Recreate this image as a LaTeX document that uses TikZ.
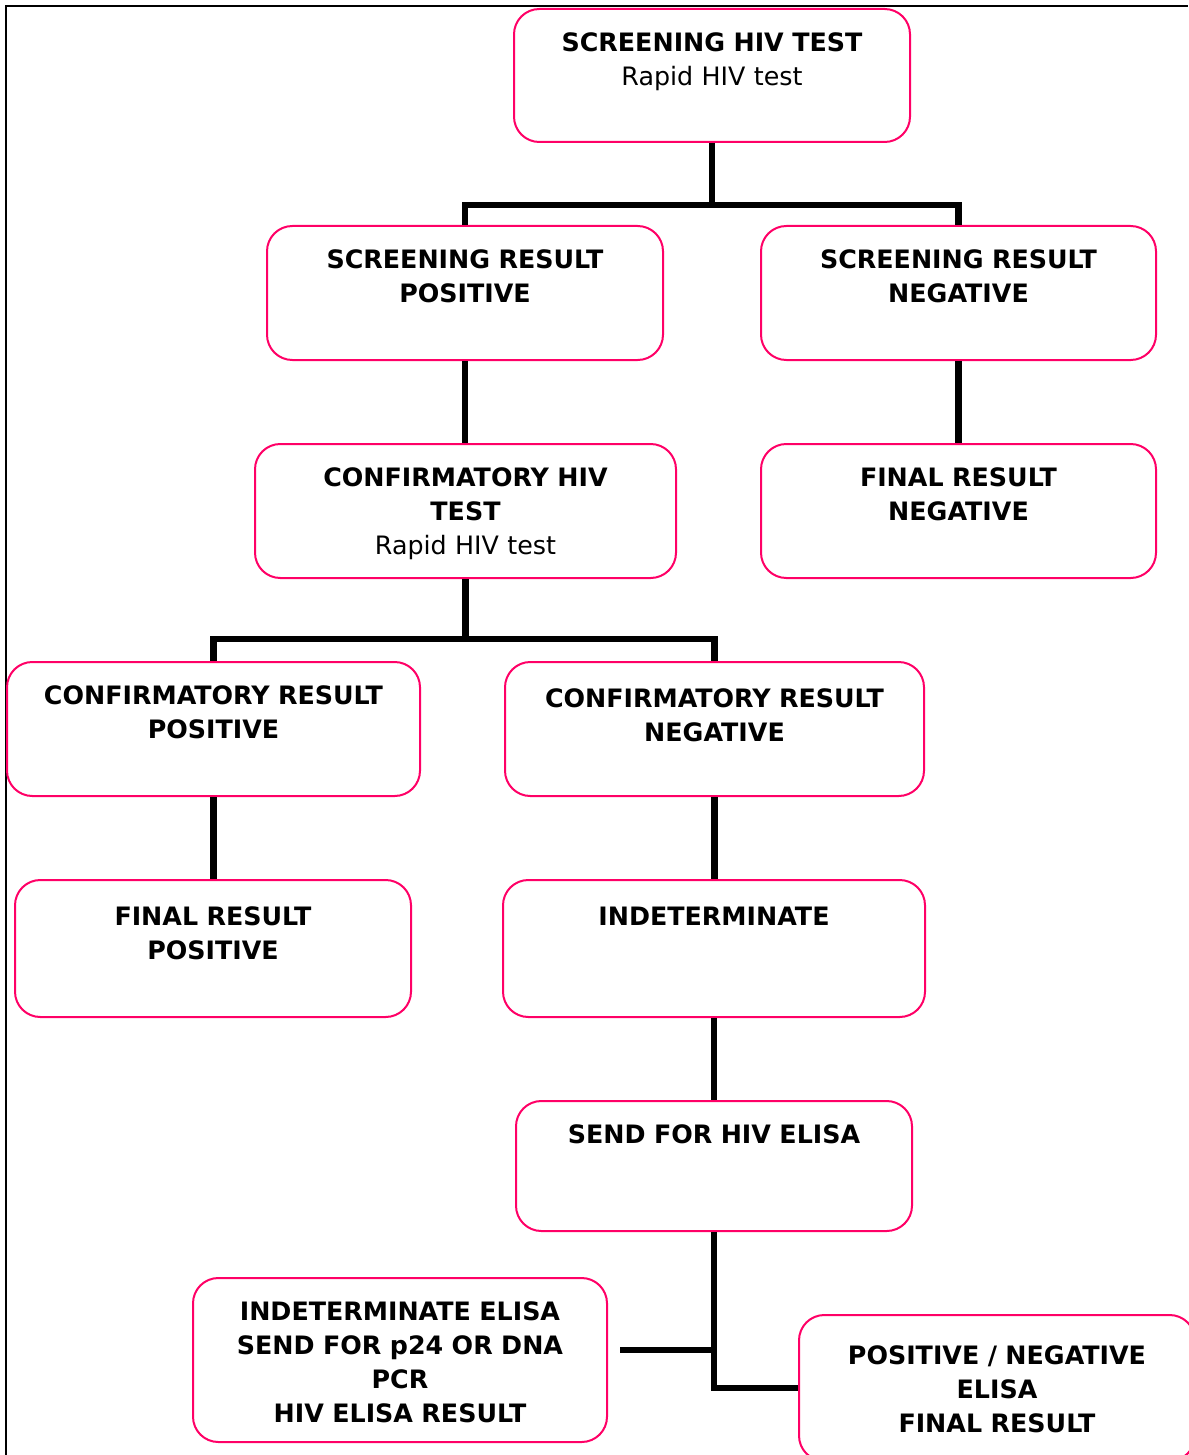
\documentclass[tikz,border=0pt]{standalone}
\usepackage{fontspec}
\setmainfont{DejaVu Sans}
\usepackage{tikz}
\usetikzlibrary{positioning}

\definecolor{boxpink}{RGB}{255,0,102}

\tikzset{
    box/.style={draw=boxpink, line width=1.5pt, rounded corners=19pt, anchor=north,
        align=center, inner xsep=0pt, inner ysep=15pt, text height=17pt,
        font=\fontsize{19}{25.5}\selectfont},
    conn/.style={line width=5.2pt, line join=miter}
}

\begin{document}
\begin{tikzpicture}[x=0.75pt, y=-0.75pt]
                \useasboundingbox (0,0) rectangle (1188,1455);

                %Frame
                \draw[line width=1.5pt] (6,1455) -- (6,6) -- (1188,6);

                %Boxes
                \node[box, text width=297pt, text depth=52.75pt] (scr) at (712,8)
                    {\textbf{SCREENING HIV TEST}\\Rapid HIV test};
                \node[box, text width=297pt, text depth=53.5pt] (srp) at (465,225)
                    {\textbf{SCREENING RESULT}\\\textbf{POSITIVE}};
                \node[box, text width=296.25pt, text depth=53.5pt] (srn) at (958.5,225)
                    {\textbf{SCREENING RESULT}\\\textbf{NEGATIVE}};
                \node[box, text width=315.75pt, text depth=53.5pt] (cht) at (465.5,443)
                    {\textbf{CONFIRMATORY HIV}\\\textbf{TEST}\\Rapid HIV test};
                \node[box, text width=296.25pt, text depth=53.5pt] (frn) at (958.5,443)
                    {\textbf{FINAL RESULT}\\\textbf{NEGATIVE}};
                \node[box, text width=309.75pt, text depth=53.5pt] (crp) at (213.5,661)
                    {\textbf{CONFIRMATORY RESULT}\\\textbf{POSITIVE}};
                \node[box, text width=314.25pt, text height=19pt, text depth=51.5pt] (crn) at (714.5,661)
                    {\textbf{CONFIRMATORY RESULT}\\\textbf{NEGATIVE}};
                \node[box, text width=297pt, text height=19pt, text depth=53.75pt] (frp) at (213,879)
                    {\textbf{FINAL RESULT}\\\textbf{POSITIVE}};
                \node[box, text width=316.5pt, text height=19pt, text depth=53.75pt] (ind) at (714,879)
                    {\textbf{INDETERMINATE}};
                \node[box, text width=297pt, text depth=50.5pt] (sfe) at (714,1100)
                    {\textbf{SEND FOR HIV ELISA}};
                \node[box, text width=310.5pt, text depth=76pt] (ie) at (400,1277)
                    {\textbf{INDETERMINATE ELISA}\\\textbf{SEND FOR p24 OR DNA}\\\textbf{PCR}\\\textbf{HIV ELISA RESULT}};
                \node[box, text width=297pt, text height=22pt, text depth=57.5pt] (pn) at (997,1314)
                    {\textbf{POSITIVE / NEGATIVE}\\\textbf{ELISA}\\\textbf{FINAL RESULT}};

                %Connectors
                \draw[conn] (scr.south) -- ++(0,62) coordinate (j1);
                \draw[conn] (srp.north) |- (j1) -| (srn.north);
                \draw[conn] (cht.south) -- ++(0,60) coordinate (j2);
                \draw[conn] (crp.north) |- (j2) -| (crn.north);
                \foreach \a/\b in {srp/cht, srn/frn, crp/frp, crn/ind, ind/sfe}
                \draw[conn] (\a.south) -- (\a.south |- \b.north);
                \draw[conn] (sfe.south) |- (pn.west);

                \coordinate (stub) at (620,1350);
                \draw[conn] (stub) -- (stub -| sfe.south);

            \end{tikzpicture}
\end{document}
